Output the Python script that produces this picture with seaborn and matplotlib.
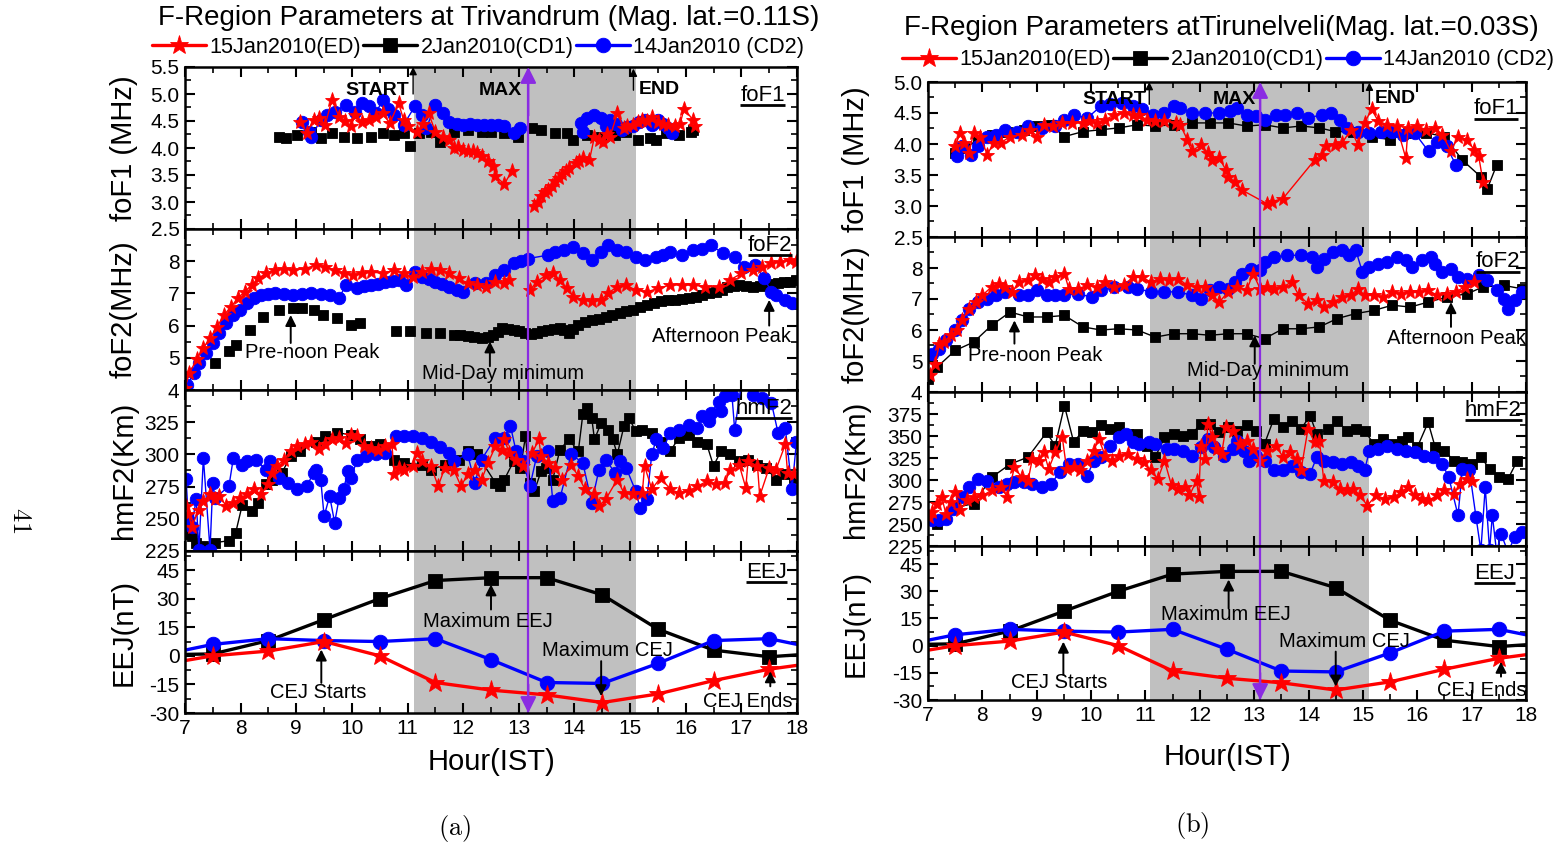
import numpy as np
import pandas as pd
import matplotlib
matplotlib.use("Agg")
import matplotlib.pyplot as plt
from matplotlib.lines import Line2D
from matplotlib.ticker import FixedLocator, MultipleLocator, FuncFormatter
import seaborn as sns

sns.set_style("ticks")
plt.rcParams["font.family"] = ["Liberation Sans", "DejaVu Sans"]
plt.rcParams["mathtext.fontset"] = "cm"
for key in ["text.color", "axes.labelcolor", "xtick.color", "ytick.color", "axes.edgecolor"]:
    plt.rcParams[key] = "black"

# ---------------------------------------------------------------- EEJ (hourly)
eej_hours = [6.5, 7.5, 8.5, 9.5, 10.5, 11.5, 12.5, 13.5, 14.5, 15.5, 16.5, 17.5, 18.5]
eej_ed = [-5, 0, 2.5, 7.5, 0, -14, -18, -20.5, -24.5, -20, -13, -7, -3]
eej_cd1 = [0.5, 1, 8, 19, 30, 39.5, 41, 41, 32, 14, 3, -0.5, 1.5]
eej_cd2 = [0, 6, 9, 8, 7.5, 9, -2, -14, -14.5, -4, 8, 9, 3]

# ---------------------------------------------------------------- Trivandrum foF1 (MHz)
tvm_fof1_ed_t = [9.07, 9.19, 9.31, 9.40, 9.52, 9.64, 9.77, 9.87, 9.98, 10.06, 10.18, 10.30, 10.43, 10.55,
                 10.68, 10.84, 10.93, 11.01, 11.17, 11.28, 11.38, 11.50, 11.63, 11.75, 11.83, 11.90, 12.00,
                 12.08, 12.17, 12.25, 12.33, 12.45, 12.54, 12.58, 12.74, 12.87, 13.05, 13.28, 13.34, 13.40,
                 13.47, 13.53, 13.60, 13.65, 13.72, 13.78, 13.84, 13.90, 14.02, 14.08, 14.15, 14.27, 14.36,
                 14.45, 14.52, 14.58, 14.64, 14.77, 14.89, 14.95, 15.06, 15.15, 15.22, 15.30, 15.39, 15.51,
                 15.60, 15.68, 15.80, 15.90, 15.97, 16.13, 16.17]
tvm_fof1_ed_v = [4.49, 4.28, 4.52, 4.55, 4.43, 4.89, 4.58, 4.50, 4.40, 4.61, 4.49, 4.52, 4.58, 4.64,
                 4.46, 4.83, 4.52, 4.40, 4.30, 4.45, 4.64, 4.30, 4.21, 4.15, 4.00, 4.02, 3.97,
                 3.95, 3.94, 3.90, 3.85, 3.75, 3.66, 3.48, 3.33, 3.57, np.nan, 2.93, 3.00, 3.11,
                 3.18, 3.23, 3.30, 3.39, 3.45, 3.51, 3.58, 3.63, 3.72, 3.75, 3.82, 3.78, 4.21,
                 4.15, 4.12, 4.25, 4.21, 4.64, 4.37, 4.40, 4.43, 4.48, 4.52, 4.50, 4.58, 4.49,
                 4.45, 4.43, 4.40, 4.45, 4.73, 4.52, 4.40]
tvm_fof1_cd1_t = [8.69, 8.82, 9.02, 9.27, 9.44, 9.64, 9.85, 10.10, 10.35, 10.55, 10.76, 10.93, 11.05, 11.21,
                  11.42, 11.59, 11.83, 12.08, 12.33, 12.50, 12.74, 12.99, 13.24, 13.40, 13.65, 13.86, 13.98,
                  14.23, 14.48, 14.73, 14.93, 15.14, 15.35, 15.47, 15.64, 15.88, 16.09, 16.13]
tvm_fof1_cd1_v = [4.21, 4.18, 4.24, 4.30, 4.18, 4.27, 4.21, 4.18, 4.21, 4.27, 4.24, 4.27, 4.03, 4.27,
                  4.30, 4.12, 4.30, 4.33, 4.30, 4.30, 4.27, 4.21, 4.37, 4.33, 4.27, 4.27, 4.15,
                  4.24, 4.21, 4.24, 4.30, 4.15, 4.18, 4.15, 4.27, 4.24, 4.30, 4.33]
tvm_fof1_cd2_t = [9.11, 9.23, 9.27, 9.44, 9.56, 9.69, 9.89, 10.06, 10.18, 10.31, 10.43, 10.55, 10.64, 10.76,
                  10.93, 11.13, 11.26, 11.34, 11.50, 11.63, 11.75, 11.88, 12.00, 12.12, 12.25, 12.38, 12.50,
                  12.62, 12.74, 12.91, 13.03, 13.50, 14.11, 14.15, 14.23, 14.36, 14.48, 14.56, 14.64, 14.75,
                  14.85, 14.95, 15.06, 15.16, 15.26, 15.39, 15.51, 15.60, 15.68, 15.76]
tvm_fof1_cd2_v = [4.49, 4.30, 4.21, 4.52, 4.61, 4.67, 4.80, 4.67, 4.83, 4.77, 4.64, 4.89, 4.73, 4.61,
                  4.43, 4.77, 4.61, 4.37, 4.80, 4.64, 4.49, 4.45, 4.43, 4.45, 4.43, 4.42, 4.43,
                  4.42, 4.40, 4.27, 4.37, np.nan, 4.46, 4.30, 4.55, 4.61, 4.55, 4.40, 4.52, 4.45,
                  4.34, 4.38, 4.40, 4.48, 4.52, 4.43, 4.52, 4.45, 4.37, 4.27]

# ---------------------------------------------------------------- Trivandrum foF2 (MHz)
tvm_fof2_ed_t = [7.00, 7.08, 7.21, 7.33, 7.45, 7.58, 7.70, 7.83, 7.95, 8.07, 8.20, 8.32, 8.45, 8.61, 8.78,
                 8.94, 9.15, 9.36, 9.52, 9.69, 9.85, 10.02, 10.18, 10.35, 10.55, 10.76, 10.93, 11.09, 11.26,
                 11.42, 11.59, 11.75, 11.92, 12.08, 12.25, 12.41, 12.58, 12.74, 12.83, 13.00, 13.20, 13.32,
                 13.49, 13.61, 13.74, 13.86, 13.98, 14.15, 14.31, 14.48, 14.60, 14.77, 14.93, 15.10, 15.31,
                 15.51, 15.72, 15.93, 16.13, 16.34, 16.59, 16.79, 17.00, 17.21, 17.37, 17.54, 17.70, 17.87,
                 17.99]
tvm_fof2_ed_v = [4.07, 4.53, 4.95, 5.31, 5.61, 5.97, 6.33, 6.59, 6.85, 7.05, 7.26, 7.47, 7.62, 7.72, 7.77,
                 7.72, 7.77, 7.88, 7.83, 7.72, 7.62, 7.57, 7.62, 7.67, 7.62, 7.72, 7.62, 7.52, 7.67,
                 7.77, 7.72, 7.62, 7.47, 7.31, 7.26, 7.21, 7.36, 7.31, 7.41, np.nan, 7.10, 7.36,
                 7.57, 7.62, 7.41, 7.16, 6.90, 6.80, 6.75, 6.80, 7.00, 7.21, 7.26, 7.10, 7.05,
                 7.16, 7.26, 7.26, 7.26, 7.21, 7.21, 7.41, 7.62, 7.72, 7.83, 7.93, 7.98, 8.03,
                 7.98]
tvm_fof2_cd1_t = [7.54, 7.79, 7.91, 8.16, 8.40, 8.69, 8.94, 9.10, 9.31, 9.48, 9.73, 9.98, 10.14, 10.80,
                  11.05, 11.34, 11.59, 11.83, 11.95, 12.08, 12.20, 12.33, 12.45, 12.54, 12.62, 12.70, 12.80,
                  12.91, 13.01, 13.12, 13.22, 13.32, 13.42, 13.53, 13.64, 13.74, 13.82, 13.90, 13.98, 14.07,
                  14.19, 14.31, 14.44, 14.56, 14.68, 14.81, 14.93, 15.06, 15.18, 15.31, 15.43, 15.55, 15.68,
                  15.80, 15.93, 16.05, 16.18, 16.30, 16.42, 16.55, 16.65, 16.75, 16.86, 16.96, 17.08, 17.21,
                  17.33, 17.45, 17.55, 17.66, 17.77, 17.87, 17.99]
tvm_fof2_cd1_v = [4.84, 5.20, 5.41, 5.87, 6.28, 6.49, 6.54, 6.54, 6.49, 6.33, 6.23, 6.03, 6.08, 5.82,
                  5.82, 5.77, 5.77, 5.72, 5.70, 5.67, 5.64, 5.61, 5.65, 5.72, 5.80, 5.92, 5.90,
                  5.87, 5.82, 5.77, 5.75, 5.77, 5.82, 5.87, 5.90, 5.92, 5.85, 5.77, 5.90, 6.03,
                  6.10, 6.18, 6.22, 6.28, 6.33, 6.39, 6.44, 6.49, 6.57, 6.64, 6.70, 6.75, 6.78,
                  6.80, 6.82, 6.85, 6.90, 6.95, 7.00, 7.05, 7.12, 7.21, 7.24, 7.26, 7.24, 7.21,
                  7.23, 7.26, 7.28, 7.31, 7.34, 7.36, 7.41]
tvm_fof2_cd2_t = [7.04, 7.17, 7.25, 7.37, 7.50, 7.62, 7.74, 7.87, 7.99, 8.12, 8.24, 8.36, 8.50, 8.61, 8.78,
                  8.94, 9.10, 9.27, 9.44, 9.60, 9.77, 9.89, 10.10, 10.22, 10.35, 10.47, 10.60, 10.72, 10.84,
                  10.97, 11.13, 11.26, 11.38, 11.50, 11.62, 11.75, 11.88, 12.00, 12.21, 12.41, 12.58, 12.74,
                  12.91, 13.04, 13.16, 13.53, 13.65, 13.82, 13.98, 14.15, 14.31, 14.48, 14.60, 14.77, 14.93,
                  15.10, 15.26, 15.47, 15.60, 15.72, 15.93, 16.13, 16.30, 16.46, 16.67, 16.88, 17.04, 17.25,
                  17.41, 17.54, 17.62, 17.79, 17.91]
tvm_fof2_cd2_v = [4.17, 4.53, 4.84, 5.15, 5.46, 5.77, 6.08, 6.33, 6.49, 6.69, 6.85, 6.95, 6.98, 7.00, 6.97,
                  6.95, 6.98, 7.00, 6.98, 6.95, 6.85, 7.26, 7.16, 7.22, 7.26, 7.30, 7.36, 7.38, 7.41,
                  7.26, 7.67, 7.52, 7.45, 7.36, 7.28, 7.21, 7.12, 7.05, 7.31, 7.31, 7.57, 7.72,
                  7.93, 8.02, 8.08, 8.19, 8.29, 8.34, 8.44, 8.24, 8.03, 8.29, 8.49, 8.34, 8.29,
                  8.13, 8.03, 8.13, 8.20, 8.29, 8.19, 8.34, 8.39, 8.49, 8.24, 8.13, 7.83, 7.88,
                  7.47, 7.05, 6.95, 6.80, 6.69]

# ---------------------------------------------------------------- Trivandrum hmF2 (km)
tvm_hmf2_ed_t = [7.02, 7.06, 7.12, 7.25, 7.33, 7.45, 7.54, 7.62, 7.74, 7.87, 7.99, 8.12, 8.24, 8.36, 8.49,
                 8.57, 8.65, 8.78, 8.90, 9.02, 9.15, 9.27, 9.40, 9.52, 9.64, 9.77, 9.89, 9.98, 10.10, 10.22,
                 10.35, 10.47, 10.60, 10.72, 10.76, 10.84, 10.93, 11.09, 11.17, 11.26, 11.42, 11.55, 11.67,
                 11.83, 11.96, 12.08, 12.21, 12.33, 12.45, 12.58, 12.70, 12.74, 12.83, 12.95, 13.07, 13.24,
                 13.36, 13.40, 13.53, 13.65, 13.78, 13.94, 14.07, 14.19, 14.36, 14.44, 14.56, 14.77, 14.89,
                 15.06, 15.22, 15.26, 15.39, 15.55, 15.72, 15.88, 16.05, 16.21, 16.38, 16.55, 16.71, 16.79,
                 16.96, 17.08, 17.12, 17.29, 17.33, 17.50, 17.62, 17.79, 17.83, 17.95]
tvm_hmf2_ed_v = [260, 254, 244, 257, 263.7, 269, 265, 267.6, 260, 262.5, 266.3, 269, 273, 269, 276.7,
                 285.7, 291, 296, 302.5, 306.4, 307.7, 310, 304, 307.7, 311.6, 312.9, 309, 315.4, 314, 306.4,
                 305, 303.8, 306.4, 307.7, 284.4, 289.6, 288, 291, 301, 295, 291, 275.4, 289.6,
                 288, 275.4, 284.4, 288, 280.5, 293.5, 306.4, 303.8, 311.6, 301, 296, 291, 301,
                 311.6, 298.6, 293.5, 289.6, 280.5, 292, 283, 272.8, 269, 260, 265, 280.5, 270,
                 269, 270, 291, 273, 282, 273, 270, 271.5, 275.4, 279, 276.7, 278, 288,
                 292, 274, 294.8, 291, 267.6, 289.6, 288, 307.7, 285.7, 284.4]
tvm_hmf2_cd1_t = [7.06, 7.12, 7.20, 7.33, 7.54, 7.79, 7.91, 8.03, 8.20, 8.32, 8.45, 8.57, 8.74, 8.90, 9.07,
                  9.36, 9.52, 9.73, 9.98, 10.14, 10.35, 10.51, 10.76, 10.93, 11.26, 11.42, 11.67, 11.92,
                  12.08, 12.25, 12.58, 12.66, 12.74, 12.91, 13.03, 13.12, 13.20, 13.28, 13.40, 13.49, 13.61,
                  13.74, 13.90, 14.07, 14.15, 14.23, 14.31, 14.36, 14.48, 14.60, 14.69, 14.77, 14.89, 14.98,
                  15.10, 15.22, 15.39, 15.55, 15.72, 15.88, 16.05, 16.21, 16.38, 16.50, 16.63, 16.79, 16.96,
                  17.12, 17.29, 17.45, 17.62, 17.79, 17.95]
tvm_hmf2_cd1_v = [238, 236.6, 231.5, 229, 231.5, 233, 239, 261, 256, 262.5, 276.7, 280.5, 285.7, 298.6, 302.5,
                  310, 314, 316.7, 315.4, 311.6, 306.4, 307.7, 296, 293.5, 292, 288, 292, 296,
                  302.5, 300, 278, 275.4, 280.5, 295, 289.6, 314, 278, 271.5, 287, 289.6, 280.5,
                  303.8, 311.6, 302.5, 331, 336, 328.4, 311.6, 324.5, 319.3, 311.6, 300, 322, 328.4,
                  318, 319.3, 316.7, 310, 302.5, 312.9, 315.4, 310, 307.7, 291, 302.5, 300, 295,
                  296, 292, 289.6, 280.5, 284.4, 282]
tvm_hmf2_cd2_t = [7.02, 7.06, 7.12, 7.20, 7.25, 7.33, 7.45, 7.50, 7.54, 7.79, 7.87, 8.03, 8.12, 8.28, 8.45,
                  8.53, 8.69, 8.86, 9.02, 9.19, 9.31, 9.36, 9.44, 9.50, 9.60, 9.69, 9.77, 9.85, 9.93, 9.98,
                  10.10, 10.26, 10.43, 10.60, 10.80, 10.93, 11.09, 11.26, 11.42, 11.59, 11.75, 11.83, 12.08,
                  12.21, 12.33, 12.58, 12.74, 12.85, 12.95, 13.07, 13.20, 13.32, 13.53, 13.61, 13.74, 13.94,
                  14.15, 14.31, 14.44, 14.56, 14.73, 14.81, 14.93, 15.10, 15.18, 15.30, 15.39, 15.47, 15.60,
                  15.72, 15.88, 16.05, 16.21, 16.30, 16.42, 16.46, 16.59, 16.63, 16.71, 16.83, 16.88, 17.00,
                  17.21, 17.37, 17.54, 17.66, 17.79, 17.91, 17.99]
tvm_hmf2_cd2_v = [281, 249.5, 244, 265, 226, 297.4, 226, 278, 266, 275.4, 297.4, 292, 295, 296, 288,
                  295, 282, 278, 273, 275.4, 285.7, 288, 280.5, 252, 267.6, 247, 266, 273, 287, 282,
                  296, 298.6, 300, 301, 314, 314, 314, 313, 310, 306, 301, 295, 300,
                  278, 296, 313, 313, 322, 302.5, 295, 275.4, 298.6, 302.5, 263.8, 266, 300,
                  293.5, 262.5, 288, 296, 285.7, 295, 289.6, 271.5, 258.6, 265, 300, 311.6, 305,
                  316.7, 319.3, 323, 320.6, 329.6, 325.8, 332, 341, 333.5, 345, 346.4, 319, 355,
                  346, 344, 340, 316.7, 320.6, 272.8, 310]

# ---------------------------------------------------------------- Tirunelveli foF1 (MHz)
tir_fof1_ed_t = [7.50, 7.59, 7.67, 7.75, 7.84, 7.96, 8.09, 8.21, 8.34, 8.51, 8.72, 8.88, 9.01, 9.13, 9.30,
                 9.47, 9.64, 9.85, 9.97, 10.10, 10.26, 10.43, 10.60, 10.77, 10.89, 11.02, 11.18, 11.35,
                 11.56, 11.64, 11.77, 11.85, 12.02, 12.15, 12.23, 12.36, 12.48, 12.52, 12.65, 12.77, 13.23,
                 13.32, 13.53, 14.11, 14.24, 14.32, 14.49, 14.62, 14.78, 14.91, 15.03, 15.16, 15.28, 15.45,
                 15.62, 15.79, 15.83, 16.00, 16.16, 16.33, 16.46, 16.62, 16.75, 16.92, 17.04, 17.13, 17.21]
tir_fof1_ed_v = [3.96, 4.18, 4.02, 3.85, 4.18, 4.12, 3.83, 4.02, 4.02, 4.12, 4.15, 4.23, 4.12, 4.31, 4.29,
                 4.34, 4.34, 4.34, 4.37, 4.34, 4.39, 4.47, 4.50, 4.47, 4.47, 4.39, 4.37, 4.37,
                 4.34, 4.31, 4.07, 3.88, 3.99, 3.85, 3.74, 3.77, 3.58, 3.47, 3.39, 3.26, 3.04,
                 3.07, 3.12, 3.74, 3.83, 3.96, 3.99, 4.02, 4.23, 3.99, 4.34, 4.56, 4.37, 4.31,
                 4.29, 3.77, 4.26, 4.29, 4.23, 4.26, 4.15, 3.88, 4.12, 4.07, 3.91, 3.80, 3.39]
tir_fof1_cd1_t = [7.50, 7.67, 7.92, 8.17, 8.46, 8.76, 9.01, 9.26, 9.51, 9.85, 10.18, 10.51, 10.85, 11.18,
                  11.52, 11.85, 12.19, 12.52, 12.86, 13.19, 13.53, 13.86, 14.20, 14.49, 14.82, 15.16, 15.49,
                  15.83, 16.16, 16.50, 16.83, 17.17, 17.29, 17.46]
tir_fof1_cd1_v = [3.85, 3.93, 4.07, 4.15, 4.20, 4.23, 4.29, 4.31, 4.12, 4.20, 4.23, 4.26, 4.31, 4.29,
                  4.31, 4.34, 4.34, 4.34, 4.29, 4.31, 4.26, 4.29, 4.26, 4.20, 4.20, 4.12, 4.07,
                  4.18, 4.18, 4.12, 3.74, 3.47, 3.28, 3.66]
tir_fof1_cd2_t = [7.54, 7.63, 7.79, 7.92, 8.09, 8.26, 8.42, 8.63, 8.84, 9.09, 9.34, 9.51, 9.68, 9.93, 10.18,
                  10.35, 10.56, 10.77, 10.93, 11.14, 11.35, 11.52, 11.64, 11.85, 12.10, 12.36, 12.56, 12.69,
                  12.86, 13.03, 13.19, 13.40, 13.57, 13.78, 13.99, 14.24, 14.41, 14.57, 14.70, 14.91, 15.12,
                  15.33, 15.54, 15.74, 15.95, 16.21, 16.37, 16.54, 16.71]
tir_fof1_cd2_v = [3.80, 3.96, 3.83, 3.96, 4.12, 4.15, 4.23, 4.20, 4.29, 4.26, 4.29, 4.39, 4.47, 4.42, 4.61,
                  4.64, 4.66, 4.61, 4.56, 4.47, 4.50, 4.61, 4.58, 4.50, 4.50, 4.50, 4.53, 4.58,
                  4.47, 4.45, 4.39, 4.47, 4.47, 4.50, 4.42, 4.47, 4.50, 4.39, 4.26, 4.20, 4.18,
                  4.20, 4.20, 4.15, 4.18, 3.88, 4.04, 3.96, 3.66]

# ---------------------------------------------------------------- Tirunelveli foF2 (MHz)
tir_fof2_ed_t = [7.04, 7.13, 7.21, 7.29, 7.42, 7.54, 7.63, 7.75, 7.88, 8.00, 8.17, 8.30, 8.42, 8.55, 8.67,
                 8.84, 8.97, 9.09, 9.22, 9.34, 9.51, 9.59, 9.76, 9.93, 10.10, 10.26, 10.43, 10.60, 10.77,
                 10.93, 11.10, 11.27, 11.44, 11.60, 11.77, 11.94, 12.10, 12.23, 12.36, 12.52, 12.69, 12.86,
                 12.98, 13.11, 13.23, 13.36, 13.53, 13.69, 13.82, 13.99, 14.15, 14.28, 14.45, 14.62, 14.78,
                 14.91, 15.03, 15.20, 15.37, 15.54, 15.70, 15.87, 16.04, 16.20, 16.37, 16.54, 16.71, 16.87,
                 17.04]
tir_fof2_ed_v = [4.54, 4.91, 5.56, 5.61, 5.83, 5.99, 6.31, 6.69, 6.90, 7.12, 7.39, 7.49, 7.39, 7.23, 7.55,
                 7.60, 7.76, 7.66, 7.55, 7.71, 7.82, 7.33, 7.33, 7.44, 7.39, 7.55, 7.39, 7.44, 7.71,
                 7.71, 7.55, 7.66, 7.60, 7.66, 7.44, 7.39, 7.39, 7.12, 6.90, 7.23, 7.39, 7.28,
                 7.82, 7.33, 7.39, 7.33, 7.39, 7.55, 7.12, 6.85, 6.96, 6.74, 6.90, 7.06, 7.12,
                 7.33, 7.12, 7.12, 7.06, 7.23, 7.17, 7.23, 7.23, 7.28, 7.12, 7.17, 7.23, 7.39,
                 7.55]
tir_fof2_cd1_t = [7.00, 7.17, 7.50, 7.84, 8.17, 8.51, 8.84, 9.18, 9.51, 9.85, 10.18, 10.51, 10.85, 11.18,
                  11.52, 11.85, 12.19, 12.52, 12.86, 13.19, 13.53, 13.86, 14.20, 14.53, 14.87, 15.20, 15.54,
                  15.87, 16.20, 16.54, 16.92, 17.21, 17.59, 17.92]
tir_fof2_cd1_v = [4.43, 4.81, 5.34, 5.61, 6.15, 6.58, 6.42, 6.42, 6.47, 6.10, 6.00, 6.04, 6.00, 5.77,
                  5.88, 5.88, 5.83, 5.88, 5.88, 5.72, 6.04, 6.04, 6.10, 6.37, 6.53, 6.63, 6.80,
                  6.74, 6.90, 7.06, 7.17, 7.39, 7.44, 7.33]
tir_fof2_cd2_t = [7.08, 7.21, 7.33, 7.50, 7.63, 7.75, 7.92, 8.09, 8.26, 8.42, 8.67, 8.84, 9.01, 9.18, 9.34,
                  9.51, 9.76, 10.01, 10.18, 10.43, 10.68, 10.85, 11.10, 11.35, 11.60, 11.85, 12.02, 12.19,
                  12.36, 12.52, 12.65, 12.77, 12.94, 13.11, 13.19, 13.36, 13.61, 13.86, 14.07, 14.15, 14.28,
                  14.45, 14.62, 14.74, 14.87, 14.99, 15.12, 15.28, 15.45, 15.62, 15.79, 15.91, 16.08, 16.25,
                  16.33, 16.46, 16.62, 16.75, 16.92, 17.13, 17.29, 17.46, 17.59, 17.67, 17.80, 17.92]
tir_fof2_cd2_v = [5.24, 5.40, 5.67, 5.99, 6.31, 6.69, 6.90, 7.01, 7.12, 7.23, 7.12, 7.12, 7.28, 7.12, 7.12,
                  7.12, 7.17, 7.06, 7.28, 7.39, 7.39, 7.33, 7.23, 7.23, 7.23, 7.12, 7.01, 7.28,
                  7.39, 7.33, 7.55, 7.82, 7.98, 7.92, 8.19, 8.35, 8.41, 8.41, 8.35, 8.03, 8.30,
                  8.52, 8.57, 8.41, 8.57, 7.87, 8.03, 8.14, 8.19, 8.35, 8.25, 8.03, 8.25, 8.35,
                  8.14, 7.87, 7.98, 7.71, 7.66, 7.76, 7.60, 7.28, 7.01, 6.69, 6.96, 7.23]

# ---------------------------------------------------------------- Tirunelveli hmF2 (km)
tir_hmf2_ed_t = [7.02, 7.08, 7.17, 7.25, 7.33, 7.42, 7.50, 7.59, 7.71, 7.84, 8.00, 8.17, 8.34, 8.46, 8.59,
                 8.72, 8.84, 8.92, 9.05, 9.13, 9.22, 9.34, 9.47, 9.55, 9.68, 9.80, 9.93, 10.05, 10.14, 10.26,
                 10.39, 10.51, 10.68, 10.85, 10.97, 11.10, 11.23, 11.35, 11.48, 11.60, 11.73, 11.81, 11.94,
                 11.98, 12.02, 12.10, 12.15, 12.23, 12.31, 12.40, 12.48, 12.61, 12.73, 12.86, 12.98, 13.11,
                 13.23, 13.40, 13.53, 13.65, 13.78, 13.86, 13.99, 14.11, 14.20, 14.28, 14.45, 14.57, 14.70,
                 14.82, 14.95, 15.08, 15.24, 15.41, 15.58, 15.70, 15.83, 15.95, 16.08, 16.20, 16.37, 16.50,
                 16.67, 16.79, 16.92, 17.00]
tir_hmf2_ed_v = [257.9, 263.6, 273, 280.6, 261.7, 275, 286.2, 265.4, 276.8, 280.6, 282.4, 288.1, 292, 280.6, 314.6,
                 303.2, 299.4, 324, 322, 331.5, 312.7, 331.5, 348.5, 312.7, 314.6, 310.8, 322, 333.4, 346.7, 327.8,
                 322, 327.8, 329.6, 324, 320, 310.8, 301.3, 322, 293.8, 290, 292, 282.4, 299.4,
                 280.6, 339, 324, 363.7, 348.5, 335.3, 329.6, 360, 356, 341, 344.8, 335.3, 322,
                 333.4, 339, 326, 331.5, 324, 310.8, 358, 343, 344.8, 299.4, 297.5, 290, 288.1,
                 290, 282.4, 271, 282.4, 278.7, 280.6, 286.2, 292, 282.4, 278.7, 276.8, 282.4, 288.1,
                 284.3, 295.7, 301.3, 299.4]
tir_hmf2_cd1_t = [7.17, 7.50, 7.84, 8.17, 8.51, 8.84, 9.18, 9.34, 9.51, 9.68, 9.85, 10.01, 10.18, 10.35,
                  10.51, 10.68, 10.85, 11.02, 11.18, 11.35, 11.52, 11.69, 11.85, 12.02, 12.19, 12.36, 12.52,
                  12.69, 12.86, 13.03, 13.19, 13.36, 13.53, 13.69, 13.86, 14.03, 14.15, 14.36, 14.53, 14.70,
                  14.87, 15.03, 15.20, 15.37, 15.54, 15.71, 15.83, 16.00, 16.20, 16.33, 16.50, 16.67, 16.83,
                  17.00, 17.17, 17.33, 17.50, 17.67, 17.84]
tir_hmf2_cd1_v = [250.3, 269, 273, 303, 318, 326, 354, 339, 384.4, 343, 356, 354, 362, 358,
                  360, 352, 352, 339, 326, 348.5, 352, 350.4, 352, 363.7, 363.7, 354, 360,
                  356, 362, 356, 341, 369.3, 360, 367.4, 358, 373, 352, 358, 367.4, 356,
                  358, 356, 341, 346.7, 341, 344.8, 348.5, 337.2, 365.6, 337.2, 333.4, 322, 320,
                  318.3, 326, 312.7, 303, 301.3, 322]
tir_hmf2_cd2_t = [7.08, 7.21, 7.33, 7.46, 7.63, 7.75, 7.92, 8.09, 8.30, 8.46, 8.59, 8.76, 8.92, 9.09, 9.26,
                  9.43, 9.59, 9.76, 9.93, 10.05, 10.18, 10.35, 10.51, 10.64, 10.77, 10.89, 11.06, 11.18,
                  11.39, 11.52, 11.69, 11.85, 12.02, 12.15, 12.27, 12.44, 12.61, 12.69, 12.82, 12.90, 13.03,
                  13.19, 13.36, 13.53, 13.69, 13.86, 14.03, 14.15, 14.28, 14.45, 14.62, 14.78, 14.91, 15.03,
                  15.12, 15.28, 15.45, 15.62, 15.79, 15.95, 16.12, 16.29, 16.46, 16.58, 16.75, 16.83, 16.96,
                  17.08, 17.17, 17.25, 17.33, 17.38, 17.46, 17.54, 17.67, 17.79, 17.92]
tir_hmf2_cd2_v = [254, 254, 256, 267.3, 280.6, 292, 301.3, 299.4, 292, 295.7, 297.5, 297.5, 295.7, 292, 295.7,
                  309, 318.3, 318.3, 305, 322, 326, 339, 348.5, 352.3, 343, 341, 343, 341,
                  335.3, 335.3, 333.4, 327.8, 337.2, 346.7, 337.2, 327.8, 335.3, 344.8, 333.4, 322, 327.8,
                  322, 310.8, 310.8, 316.4, 309, 307, 326, 322, 320, 318.3, 320, 316.4, 310.8,
                  333.4, 335.3, 339, 335.3, 333.4, 331.5, 327.8, 326, 318.3, 303, 259.8, 312.7, 310.8,
                  258, 220, 292, 220, 259.8, 218, 239, 218, 235, 240.9]

# ---------------------------------------------------------------- styling
RED, BLACK, BLUE = "#ff0000", "#000000", "#0000ff"
PURPLE, SHADE = "#8a2be2", "#c0c0c0"

dense_style = {
    "ED": dict(color=RED, marker="*", markersize=11, linewidth=1.0),
    "CD1": dict(color=BLACK, marker="s", markersize=7, linewidth=1.0),
    "CD2": dict(color=BLUE, marker="o", markersize=9, linewidth=1.0),
}
eej_style = {
    "ED": dict(color=RED, marker="*", markersize=14, linewidth=2.4),
    "CD1": dict(color=BLACK, marker="s", markersize=9.5, linewidth=2.4),
    "CD2": dict(color=BLUE, marker="o", markersize=10.5, linewidth=2.4),
}


def draw_series(ax, hours, values, style, **extra):
    df = pd.DataFrame({"hour": hours, "value": values})
    df["seg"] = df["value"].isna().cumsum()
    df = df.dropna()
    kw = dict(style)
    kw.update(extra)
    sns.lineplot(data=df, x="hour", y="value", units="seg", estimator=None, sort=False,
                 ax=ax, legend=False, markeredgecolor=kw["color"], markeredgewidth=0.6,
                 zorder=3, **kw)


fig = plt.figure(figsize=(15.54, 8.47), dpi=100)
W, H = 1554.0, 847.0


def column_axes(x0, x1, edges):
    axes = []
    for top, bot in zip(edges[:-1], edges[1:]):
        axes.append(fig.add_axes([x0 / W, 1 - bot / H, (x1 - x0) / W, (bot - top) / H]))
    return axes


columns = [
    dict(
        axes=column_axes(185, 797, [67, 229, 390, 551, 713]),
        title="F-Region Parameters at Trivandrum (Mag. lat.=0.11S)",
        title_xy=(489, 18), legend_xy=(478, 47),
        shade=(11.11, 15.1), purple=13.17,
        series=[
            (tvm_fof1_ed_t, tvm_fof1_ed_v, tvm_fof1_cd1_t, tvm_fof1_cd1_v, tvm_fof1_cd2_t, tvm_fof1_cd2_v),
            (tvm_fof2_ed_t, tvm_fof2_ed_v, tvm_fof2_cd1_t, tvm_fof2_cd1_v, tvm_fof2_cd2_t, tvm_fof2_cd2_v),
            (tvm_hmf2_ed_t, tvm_hmf2_ed_v, tvm_hmf2_cd1_t, tvm_hmf2_cd1_v, tvm_hmf2_cd2_t, tvm_hmf2_cd2_v),
        ],
        cd1_lines=[False, False, True],
        ylims=[(2.5, 5.5), (4, 9), (225, 350), (-30, 55)],
        yticks=[np.arange(2.5, 5.51, 0.5), [4, 5, 6, 7, 8], [225, 250, 275, 300, 325],
                [-30, -15, 0, 15, 30, 45]],
        ylabels=["foF1 (MHz)", "foF2(MHz)", "hmF2(Km)", "EEJ(nT)"],
        ylabel_x=-0.077, xlabel_y=-0.30,
        tags=[("foF1", 0.980, 0.827), ("foF2", 0.992, 0.90), ("hmF2", 0.992, 0.888), ("EEJ", 0.984, 0.87)],
        marks=[("START", 10.45, 5.07, "center"), ("MAX", 12.66, 5.07, "center"), ("END", 15.16, 5.08, "left")],
        mark_arrows=[(11.1, 5.0, 5.5), (15.06, 5.07, 5.47)],
        notes=[
            (1, "Pre-noon Peak", 8.07, 5.18, "left", (8.9, 5.46, 6.33)),
            (1, "Mid-Day minimum", 12.72, 4.51, "center", (12.48, 4.74, 5.51)),
            (1, "Afternoon Peak", 15.39, 5.67, "left", (17.5, 6.0, 6.8)),
            (3, "Maximum EEJ", 12.45, 18.2, "center", (12.5, 24.3, 37.5)),
            (3, "Maximum CEJ", 14.6, 2.8, "center", (14.48, -2.8, -21.2)),
            (3, "CEJ Starts", 9.39, -19.5, "center", (9.45, -14.2, 3.3)),
            (3, "CEJ Ends", 17.12, -23.9, "center", (17.52, -16.0, -8.1)),
        ],
        tag_letter="(a)", tag_xy=(455, 828),
    ),
    dict(
        axes=column_axes(928, 1526, [82, 237, 392, 546, 700]),
        title="F-Region Parameters atTirunelveli(Mag. lat.=0.03S)",
        title_xy=(1221, 28), legend_xy=(1228, 60),
        shade=(11.08, 15.12), purple=13.11,
        series=[
            (tir_fof1_ed_t, tir_fof1_ed_v, tir_fof1_cd1_t, tir_fof1_cd1_v, tir_fof1_cd2_t, tir_fof1_cd2_v),
            (tir_fof2_ed_t, tir_fof2_ed_v, tir_fof2_cd1_t, tir_fof2_cd1_v, tir_fof2_cd2_t, tir_fof2_cd2_v),
            (tir_hmf2_ed_t, tir_hmf2_ed_v, tir_hmf2_cd1_t, tir_hmf2_cd1_v, tir_hmf2_cd2_t, tir_hmf2_cd2_v),
        ],
        cd1_lines=[True, True, True],
        ylims=[(2.5, 5.0), (4, 9), (225, 400), (-30, 55)],
        yticks=[np.arange(2.5, 5.01, 0.5), [4, 5, 6, 7, 8], [225, 250, 275, 300, 325, 350, 375],
                [-30, -15, 0, 15, 30, 45]],
        ylabels=["foF1 (MHz)", "foF2(MHz)", "hmF2(Km)", "EEJ(nT)"],
        ylabel_x=-0.097, xlabel_y=-0.37,
        tags=[("foF1", 0.987, 0.826), ("foF2", 0.99, 0.84), ("hmF2", 0.993, 0.88), ("EEJ", 0.982, 0.82)],
        marks=[("START", 10.42, 4.72, "center"), ("MAX", 12.63, 4.72, "center"), ("END", 15.22, 4.73, "left")],
        mark_arrows=[(11.07, 4.64, 5.0), (15.12, 4.64, 4.99)],
        notes=[
            (1, "Pre-noon Peak", 7.74, 5.18, "left", (8.59, 5.56, 6.31)),
            (1, "Mid-Day minimum", 13.25, 4.68, "center", (13.01, 4.91, 5.83)),
            (1, "Afternoon Peak", 15.44, 5.72, "left", (16.62, 6.1, 6.9)),
            (3, "Maximum EEJ", 12.48, 17.4, "center", (12.53, 20.5, 36.5)),
            (3, "Maximum CEJ", 14.66, 2.2, "center", (14.5, -3.3, -22.6)),
            (3, "CEJ Starts", 9.42, -20.4, "center", (9.49, -16.2, 2.2)),
            (3, "CEJ Ends", 17.18, -24.5, "center", (17.54, -17.1, -8.9)),
        ],
        tag_letter="(b)", tag_xy=(1192, 825),
    ),
]

minor_steps = [0.25, 0.5, 12.5, 7.5]
arrow_kw = dict(arrowstyle="-|>", color="k", lw=1.4, mutation_scale=16, shrinkA=0, shrinkB=0)
fmt_one_decimal = FuncFormatter(lambda v, p: f"{v:.1f}")
fmt_plain = FuncFormatter(lambda v, p: f"{v:g}")

for col in columns:
    axes = col["axes"]
    for i, ax in enumerate(axes):
        ax.axvspan(*col["shade"], color=SHADE, zorder=0, lw=0)
        if i < 3:
            ed_t, ed_v, c1_t, c1_v, c2_t, c2_v = col["series"][i]
            c1_extra = {} if col["cd1_lines"][i] else dict(linestyle="none")
            draw_series(ax, c1_t, c1_v, dense_style["CD1"], **c1_extra)
            draw_series(ax, c2_t, c2_v, dense_style["CD2"])
            draw_series(ax, ed_t, ed_v, dense_style["ED"])
        else:
            draw_series(ax, eej_hours, eej_cd1, eej_style["CD1"])
            draw_series(ax, eej_hours, eej_cd2, eej_style["CD2"])
            draw_series(ax, eej_hours, eej_ed, eej_style["ED"])

        ax.axvline(col["purple"], color=PURPLE, lw=1.6, zorder=6)
        ax.set_xlim(7, 18)
        ax.set_ylim(*col["ylims"][i])
        ax.xaxis.set_major_locator(MultipleLocator(1))
        ax.xaxis.set_minor_locator(MultipleLocator(0.5))
        ax.yaxis.set_major_locator(FixedLocator(col["yticks"][i]))
        ax.yaxis.set_minor_locator(MultipleLocator(minor_steps[i]))
        ax.yaxis.set_major_formatter(fmt_one_decimal if i == 0 else fmt_plain)
        ax.tick_params(which="major", direction="in", length=7, width=1.5, top=True, right=True,
                       labelsize=15, pad=4, colors="black")
        ax.tick_params(which="minor", direction="in", length=4, width=1.2, top=True, right=True,
                       colors="black")
        for sp in ax.spines.values():
            sp.set_linewidth(1.8)
            sp.set_color("black")
            sp.set_zorder(7)
        ax.set_ylabel(col["ylabels"][i], fontsize=21, color="black")
        ax.yaxis.set_label_coords(col["ylabel_x"], 0.5)
        if i < 3:
            ax.set_xlabel("")
            ax.tick_params(labelbottom=False)
        else:
            ax.set_xlabel("Hour(IST)", fontsize=21, color="black")
            ax.xaxis.label.set_va("center")
            ax.xaxis.set_label_coords(0.5, col["xlabel_y"])

        # underlined panel tag
        name, tx, ty = col["tags"][i]
        t = ax.text(tx, ty, name, transform=ax.transAxes, ha="right", va="center", fontsize=16, zorder=8)
        renderer = fig.canvas.get_renderer()
        bb = t.get_window_extent(renderer=renderer).transformed(ax.transAxes.inverted())
        ax.plot([bb.x0, bb.x1], [bb.y0 + 0.005, bb.y0 + 0.005], transform=ax.transAxes, color="k",
                lw=2, solid_capstyle="butt", zorder=8, clip_on=False)

    # START / MAX / END markers and the purple arrows at the storm maximum
    top = axes[0]
    for s, x, y, ha in col["marks"]:
        top.text(x, y, s, ha=ha, va="center", fontsize=14, fontweight="bold", zorder=8)
    for x, y0, y1 in col["mark_arrows"]:
        top.annotate("", xy=(x, y1), xytext=(x, y0),
                     arrowprops=dict(arrowstyle="-|>", color="k", lw=1.0, mutation_scale=11,
                                     shrinkA=0, shrinkB=0), zorder=8, annotation_clip=False)
    ylo, yhi = col["ylims"][0]
    top.annotate("", xy=(col["purple"], yhi), xytext=(col["purple"], yhi - 0.3 * (yhi - ylo)),
                 arrowprops=dict(arrowstyle="-|>", color=PURPLE, lw=1.6, mutation_scale=24,
                                 shrinkA=0, shrinkB=0), zorder=9, annotation_clip=False)
    bottom = axes[3]
    bottom.annotate("", xy=(col["purple"], -30), xytext=(col["purple"], -15),
                    arrowprops=dict(arrowstyle="-|>", color=PURPLE, lw=1.6, mutation_scale=24,
                                    shrinkA=0, shrinkB=0), zorder=9, annotation_clip=False)

    for idx, text, x, y, ha, (ax_x, y0, y1) in col["notes"]:
        ax = axes[idx]
        ax.text(x, y, text, ha=ha, va="center", fontsize=14.5, zorder=8)
        ax.annotate("", xy=(ax_x, y1), xytext=(ax_x, y0), arrowprops=arrow_kw, zorder=8)

    fig.text(col["title_xy"][0] / W, 1 - col["title_xy"][1] / H, col["title"],
             ha="center", va="center", fontsize=20)
    handles = [
        Line2D([], [], markeredgewidth=0.6, markeredgecolor=RED, **eej_style["ED"]),
        Line2D([], [], markeredgewidth=0.6, markeredgecolor=BLACK, **eej_style["CD1"]),
        Line2D([], [], markeredgewidth=0.6, markeredgecolor=BLUE, **eej_style["CD2"]),
    ]
    fig.legend(handles, ["15Jan2010(ED)", "2Jan2010(CD1)", "14Jan2010 (CD2)"], loc="center",
               bbox_to_anchor=(col["legend_xy"][0] / W, 1 - col["legend_xy"][1] / H), ncol=3,
               frameon=False, fontsize=15.6, handlelength=2.5, handletextpad=0.15, columnspacing=0.1,
               borderpad=0)
    fig.text(col["tag_xy"][0] / W, 1 - col["tag_xy"][1] / H, r"$\mathrm{" + col["tag_letter"] + "}$",
             ha="center", va="center", fontsize=19)

fig.text(20 / W, 1 - 520 / H, r"$\mathrm{41}$", rotation=270, ha="center", va="center", fontsize=19)

fig.savefig("out.png", dpi=100)
